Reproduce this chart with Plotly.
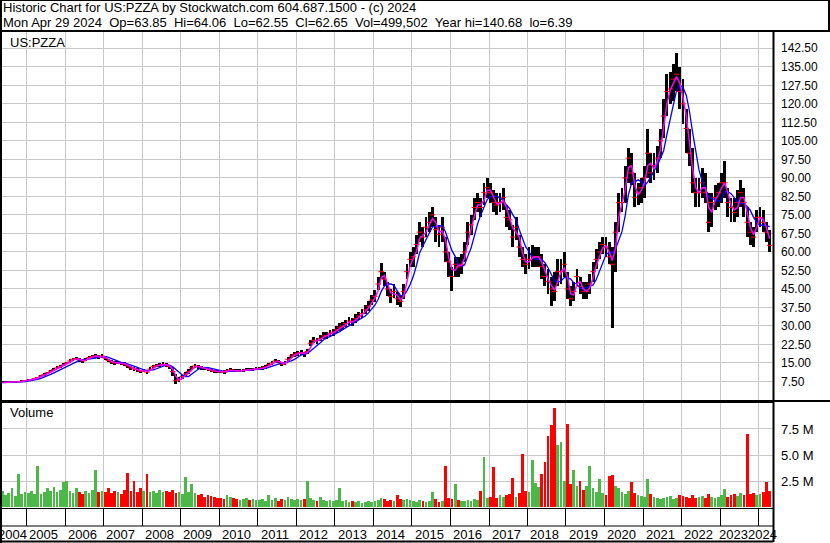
import plotly.graph_objects as go
import pandas as pd

W, H = 830, 543


def px(x):
    return x / W


def py(y):
    return 1 - y / H


# ---------------- data (monthly, May 2004 .. Apr 2024) ----------------
months = pd.date_range("2004-05-01", "2024-04-01", freq="MS")

close = [
    7.1, 7.1, 7.2, 7.2, 7.3, 7.4, 7.6, 7.8,                          # 2004
    8.0, 8.3, 8.7, 9.1, 9.7, 10.3, 11.0, 11.7, 12.3, 13.0, 13.6, 14.2,  # 2005
    15.0, 15.8, 16.5, 16.8, 16.2, 15.8, 16.5, 17.2, 17.6, 17.9, 17.5, 17.8,  # 2006
    17.0, 16.0, 15.4, 15.0, 15.2, 14.8, 14.6, 13.8, 13.0, 12.5, 12.2, 11.6,  # 2007
    12.0, 11.3, 12.5, 13.5, 14.0, 14.1, 14.5, 14.3, 13.5, 11.5, 7.8, 8.3,    # 2008
    9.5, 10.5, 11.5, 13.0, 13.8, 13.5, 13.0, 12.8, 12.5, 12.0, 11.6, 11.5,   # 2009
    11.4, 11.3, 11.8, 12.2, 12.0, 11.8, 11.8, 12.0, 12.3, 12.2, 12.4, 12.6,  # 2010
    12.8, 13.0, 13.4, 14.3, 15.0, 15.8, 15.6, 14.5, 15.0, 16.5, 17.8, 18.5,  # 2011
    19.0, 19.2, 18.6, 19.6, 23.0, 24.2, 24.0, 25.0, 26.0, 26.0, 27.0, 27.5,  # 2012
    28.5, 29.5, 30.0, 31.0, 32.0, 31.5, 33.0, 34.0, 35.0, 36.5, 38.0, 40.5,  # 2013
    42.0, 47.0, 52.0, 49.0, 45.0, 42.0, 44.0, 41.0, 40.0, 44.0, 52.0, 57.0,  # 2014
    58.0, 63.0, 68.0, 66.0, 70.0, 72.0, 75.0, 69.0, 67.0, 70.0, 60.0, 56.0,  # 2015
    50.0, 55.0, 54.0, 55.0, 60.0, 68.0, 71.0, 78.0, 80.0, 78.0, 84.0, 86.0,  # 2016
    84.0, 80.0, 79.0, 80.0, 82.0, 74.0, 73.0, 66.0, 70.0, 62.0, 57.0, 55.0,  # 2017
    57.0, 58.0, 58.0, 58.0, 54.0, 50.0, 48.0, 45.0, 44.0, 52.0, 52.0, 55.0,  # 2018
    45.0, 41.0, 44.0, 50.0, 46.0, 44.0, 44.0, 47.0, 52.0, 57.0, 60.0, 63.0,  # 2019
    62.0, 58.0, 55.0, 68.0, 80.0, 80.0, 90.0, 98.0, 92.0, 82.0, 84.0, 86.0,  # 2020
    90.0, 100.0, 92.0, 95.0, 98.0, 105.0, 115.0, 125.0, 126.0, 130.0, 132.0, 125.0,  # 2021
    120.0, 110.0, 100.0, 88.0, 84.0, 84.0, 88.0, 84.0, 72.0, 80.0, 82.0, 84.0,  # 2022
    88.0, 88.0, 80.0, 78.0, 76.0, 80.0, 84.0, 80.0, 72.0, 68.0, 66.0, 74.0,  # 2023
    74.0, 72.0, 68.0, 62.65,                                                 # 2024
]

high = [
    7.5, 7.5, 7.6, 7.6, 7.7, 7.8, 8.0, 8.2,
    8.4, 8.7, 9.1, 9.5, 10.2, 10.8, 11.5, 12.2, 12.9, 13.6, 14.2, 14.9,
    15.6, 16.5, 17.2, 17.5, 16.9, 16.5, 17.2, 17.9, 18.3, 18.7, 18.2, 18.5,
    17.8, 16.8, 16.1, 15.7, 15.9, 15.5, 15.3, 14.6, 13.8, 13.2, 12.9, 12.3,
    12.7, 12.0, 13.2, 14.2, 14.7, 14.8, 15.2, 15.0, 14.3, 13.5, 10.5, 9.2,
    10.3, 11.3, 12.4, 13.8, 14.6, 14.3, 13.8, 13.5, 13.2, 12.7, 12.3, 12.2,
    12.1, 12.0, 12.5, 12.9, 12.7, 12.5, 12.5, 12.7, 13.0, 12.9, 13.1, 13.3,
    13.5, 13.7, 14.1, 15.0, 15.8, 16.6, 16.4, 15.4, 15.8, 17.3, 18.6, 19.4,
    20.0, 20.2, 19.6, 20.8, 24.3, 25.5, 25.3, 26.3, 27.4, 27.4, 28.4, 28.9,
    30.0, 31.0, 31.5, 32.6, 33.7, 33.2, 34.7, 35.8, 36.8, 38.4, 40.0, 42.6,
    44.5, 50.0, 55.5, 52.0, 48.0, 44.8, 46.8, 43.8, 42.6, 47.0, 55.0, 60.0,
    62.0, 67.0, 72.0, 70.0, 74.0, 76.0, 78.0, 74.0, 71.0, 74.0, 66.0, 60.0,
    54.0, 58.0, 58.0, 59.0, 64.0, 72.0, 75.0, 82.0, 84.0, 82.0, 88.0, 90.0,
    88.0, 85.0, 84.0, 84.0, 86.0, 79.0, 77.0, 71.0, 74.0, 67.0, 62.0, 59.0,
    62.0, 63.0, 62.0, 62.0, 59.0, 55.0, 53.0, 50.0, 52.0, 57.0, 57.0, 60.0,
    52.0, 46.0, 48.0, 53.0, 50.0, 48.0, 48.0, 51.0, 56.0, 61.0, 64.0, 66.0,
    66.0, 64.0, 62.0, 72.0, 84.0, 86.0, 95.0, 102.0, 100.0, 92.0, 88.0, 90.0,
    95.0, 110.0, 100.0, 100.0, 103.0, 110.0, 122.0, 132.0, 133.0, 136.0, 140.68, 135.0,
    130.0, 118.0, 110.0, 102.0, 90.0, 90.0, 94.0, 92.0, 84.0, 84.0, 87.0, 88.0,
    92.0, 97.0, 86.0, 82.0, 82.0, 85.0, 89.0, 86.0, 78.0, 72.0, 70.0, 77.0,
    78.0, 77.0, 72.0, 69.0,
]

low = [
    6.8, 6.8, 6.9, 6.9, 7.0, 7.1, 7.3, 7.5,
    7.7, 8.0, 8.4, 8.8, 9.3, 9.9, 10.6, 11.2, 11.8, 12.5, 13.1, 13.7,
    14.4, 15.1, 15.8, 16.1, 15.5, 15.1, 15.8, 16.5, 16.9, 17.2, 16.8, 17.1,
    16.2, 15.3, 14.7, 14.3, 14.5, 14.1, 13.9, 13.0, 12.2, 11.8, 11.5, 10.9,
    11.2, 10.6, 11.8, 12.8, 13.3, 13.4, 13.8, 13.5, 12.6, 9.8, 6.39, 7.4,
    8.6, 9.6, 10.6, 12.0, 13.0, 12.7, 12.3, 12.1, 11.8, 11.3, 10.9, 10.8,
    10.8, 10.7, 11.2, 11.6, 11.4, 11.2, 11.2, 11.4, 11.7, 11.6, 11.8, 12.0,
    12.1, 12.3, 12.7, 13.6, 14.2, 15.0, 14.8, 13.6, 14.2, 15.7, 17.0, 17.6,
    18.0, 18.2, 17.6, 18.6, 21.8, 23.0, 22.8, 23.8, 24.7, 24.7, 25.6, 26.1,
    27.1, 28.0, 28.5, 29.4, 30.4, 29.9, 31.4, 32.3, 33.3, 34.7, 36.1, 38.5,
    39.8, 44.5, 49.0, 46.0, 42.0, 39.4, 41.2, 38.4, 37.6, 41.0, 49.0, 54.0,
    54.0, 59.0, 64.0, 62.0, 66.0, 68.0, 70.0, 64.0, 62.0, 64.0, 56.0, 50.0,
    44.0, 50.0, 50.0, 51.0, 56.0, 63.0, 67.0, 73.0, 76.0, 74.0, 79.0, 82.0,
    80.0, 76.0, 75.0, 76.0, 77.0, 70.0, 69.0, 62.0, 65.0, 58.0, 54.0, 51.0,
    53.0, 54.0, 54.0, 54.0, 49.0, 46.0, 43.0, 38.0, 40.0, 46.0, 47.0, 50.0,
    41.0, 38.0, 40.0, 46.0, 43.0, 41.0, 41.0, 43.0, 48.0, 53.0, 57.0, 59.0,
    58.0, 55.0, 29.0, 52.0, 68.0, 76.0, 80.0, 88.0, 87.0, 78.0, 79.0, 80.0,
    82.0, 90.0, 88.0, 89.0, 92.0, 98.0, 106.0, 115.0, 120.0, 121.0, 125.0, 118.0,
    112.0, 100.0, 95.0, 84.0, 78.0, 78.0, 82.0, 80.0, 68.0, 70.0, 77.0, 78.0,
    80.0, 82.0, 74.0, 72.0, 72.0, 74.0, 78.0, 74.0, 66.0, 63.0, 62.0, 68.0,
    70.0, 68.0, 64.0, 60.0,
]

volume_m = [
    1.6, 1.2, 1.4, 1.8, 1.1, 3.2, 1.3, 1.5,
    1.4, 1.6, 1.3, 4.0, 1.3, 1.5, 1.8, 1.6, 1.9, 1.5, 1.7, 2.4,
    2.5, 1.6, 1.4, 1.8, 1.5, 1.3, 1.6, 1.4, 1.7, 3.6, 1.5, 1.6,
    1.5, 1.8, 1.4, 1.6, 1.5, 1.3, 1.7, 3.3, 1.6, 2.5, 1.5, 1.8,
    1.6, 3.2, 1.5, 1.6, 1.4, 1.7, 1.5, 1.6, 1.5, 1.7, 1.4, 1.5,
    1.3, 2.9, 1.5, 2.2, 1.4, 1.2, 1.3, 1.0, 1.2, 1.1, 1.0, 0.9,
    0.9, 0.8, 1.2, 1.0, 0.9, 0.8, 0.7, 0.8, 0.9, 0.7, 0.8, 0.7,
    0.7, 0.8, 0.6, 1.2, 0.7, 0.9, 0.6, 0.8, 0.7, 1.0, 0.8, 0.7,
    0.8, 0.7, 0.8, 2.5, 0.9, 0.7, 0.6, 1.0, 0.7, 0.6, 0.7, 0.6,
    0.7, 1.85, 0.6, 0.7, 0.5, 0.6, 0.5, 0.6, 0.4, 0.5, 0.6, 0.5,
    0.6, 0.7, 0.9, 0.8, 0.6, 0.7, 0.6, 1.2, 0.8, 0.7, 0.8, 0.7,
    0.6, 0.5, 0.7, 0.6, 0.5, 0.6, 1.5, 0.8, 0.5, 0.6, 4.0, 0.9,
    0.8, 2.2, 0.7, 0.6, 0.6, 0.7, 0.6, 0.8, 0.7, 1.6, 4.8, 0.9,
    1.0, 3.9, 0.9, 1.2, 1.0, 1.2, 1.3, 2.8, 1.0, 1.4, 5.1, 1.6,
    1.5, 4.5, 2.3, 1.9, 3.2, 4.3, 6.8, 7.9, 9.5, 6.0, 6.3, 2.5,
    8.0, 2.2, 3.6, 2.0, 2.5, 1.7, 2.0, 4.0, 1.8, 1.5, 2.7, 1.4,
    1.2, 3.0, 3.1, 2.0, 1.8, 1.5, 1.3, 1.6, 2.4, 1.4, 1.2, 1.1,
    1.0, 2.7, 1.3, 1.0, 0.9, 0.8, 0.9, 1.0, 1.1, 0.8, 0.9, 1.2,
    1.1, 1.0, 0.9, 1.2, 0.9, 1.0, 1.1, 0.9, 1.3, 1.0, 0.9, 1.0,
    1.2, 1.75, 1.0, 1.2, 1.3, 1.1, 1.4, 1.2, 7.0, 1.3, 1.4, 1.2,
    1.3, 1.5, 2.4, 1.6,
]

price_ticks = [7.5, 15, 22.5, 30, 37.5, 45, 52.5, 60, 67.5, 75, 82.5, 90,
               97.5, 105, 112.5, 120, 127.5, 135, 142.5]
volume_ticks = [2.5, 5.0, 7.5]
year_labels = list(range(2004, 2025))

symbol = "US:PZZA"
title_line1 = "Historic Chart for US:PZZA by Stockwatch.com 604.687.1500 - (c) 2024"
title_line2 = ("Mon Apr 29 2024  Op=63.85  Hi=64.06  Lo=62.55  Cl=62.65  "
               "Vol=499,502  Year hi=140.68  lo=6.39")

# ---------------- derived ----------------
mid = months + pd.Timedelta(days=14)
cs = pd.Series(close)
ma_fast = cs.rolling(2, min_periods=1).mean()
ma_slow = cs.rolling(5, min_periods=1).mean()
vol_colors = ["#4CB848" if i == 0 or close[i] >= close[i - 1] else "#FF0000"
              for i in range(len(close))]
DAY = 86400000

FONT = "Arial, 'Liberation Sans', sans-serif"
GRID = "#C8C8C8"

fig = go.Figure()
fig.add_trace(go.Bar(x=mid, y=[h - l for h, l in zip(high, low)], base=low,
                     width=27 * DAY, marker=dict(color="black", line_width=0),
                     xaxis="x", yaxis="y", hoverinfo="skip"))
fig.add_trace(go.Scatter(x=mid, y=close, mode="markers",
                         marker=dict(symbol="line-ew", size=4,
                                     line=dict(color="#FF0000", width=1)),
                         xaxis="x", yaxis="y", hoverinfo="skip"))
fig.add_trace(go.Scatter(x=mid, y=ma_slow, mode="lines",
                         line=dict(color="#0000FF", width=1.3),
                         xaxis="x", yaxis="y", hoverinfo="skip"))
fig.add_trace(go.Scatter(x=mid, y=ma_fast, mode="lines",
                         line=dict(color="#FF00FF", width=1.5),
                         xaxis="x", yaxis="y", hoverinfo="skip"))
fig.add_trace(go.Bar(x=mid, y=[v * 1e6 for v in volume_m], width=26 * DAY,
                     marker=dict(color=vol_colors, line_width=0),
                     xaxis="x2", yaxis="y2", hoverinfo="skip"))

x_range = ["2004-05-11", "2024-05-17"]

fig.update_layout(
    width=W, height=H, margin=dict(l=0, r=0, t=0, b=0),
    paper_bgcolor="white", plot_bgcolor="white", showlegend=False,
    bargap=0, barmode="overlay", hovermode=False,
    xaxis=dict(domain=[px(2), px(773)], range=x_range, type="date",
               showgrid=True, gridcolor=GRID, gridwidth=1, dtick="M12",
               tick0="2005-01-01", showticklabels=False, ticks="",
               zeroline=False, showline=False, anchor="y"),
    yaxis=dict(domain=[py(400), py(32)], range=[0, 149.1], side="right",
               tickvals=price_ticks, ticktext=[f"{v:.2f}" for v in price_ticks],
               showgrid=True, gridcolor=GRID, gridwidth=1, zeroline=False,
               ticks="", ticklabelstandoff=7, anchor="x",
               tickfont=dict(family=FONT, size=12, color="black")),
    xaxis2=dict(domain=[px(2), px(773)], range=x_range, type="date",
                showgrid=True, gridcolor=GRID, gridwidth=1, dtick="M12",
                tick0="2005-01-01", showticklabels=False, ticks="outside",
                ticklen=17, tickcolor="black", tickwidth=1,
                zeroline=False, showline=False, anchor="y2"),
    yaxis2=dict(domain=[py(508), py(403)], range=[-0.07e6, 9.99e6], side="right",
                tickvals=[v * 1e6 for v in volume_ticks],
                ticktext=[f"{v:.1f} M" for v in volume_ticks],
                showgrid=True, gridcolor=GRID, gridwidth=1, zeroline=False,
                ticks="", ticklabelstandoff=7, anchor="x2",
                tickfont=dict(family=FONT, size=13, color="black")),
)

# ---------------- frame lines ----------------
def hline(y, x0, x1, w=1):
    return dict(type="line", xref="paper", yref="paper", x0=px(x0), x1=px(x1),
                y0=py(y), y1=py(y), line=dict(color="black", width=w))


def vline(x, y0, y1, w=1):
    return dict(type="line", xref="paper", yref="paper", x0=px(x), x1=px(x),
                y0=py(y0), y1=py(y1), line=dict(color="black", width=w))


shapes = [
    hline(0.5, 0, 830, 1),
    hline(31, 0, 830, 2),
    vline(829, 0, 31, 2),
    vline(1, 0, 543, 2),
    vline(773.5, 31, 542, 2),
    hline(401, 0, 830, 2),
    hline(402.5, 0, 773, 1),
    hline(508.5, 0, 773, 1),
    hline(526, 0, 773, 1),
    hline(541.5, 0, 773, 2),
]
fig.update_layout(shapes=shapes)

# ---------------- texts ----------------
def nb(s):
    return s.replace("  ", "\u00a0\u00a0")


ann = [
    dict(text=title_line1, x=px(1), y=py(8), xanchor="left", yanchor="middle"),
    dict(text=nb(title_line2), x=px(1), y=py(22.5), xanchor="left", yanchor="middle"),
    dict(text=symbol, x=px(8), y=py(42), xanchor="left", yanchor="middle"),
    dict(text="Volume", x=px(8), y=py(413), xanchor="left", yanchor="middle"),
]
for a in ann:
    a.update(xref="paper", yref="paper", showarrow=False,
             font=dict(family=FONT, size=13, color="black"))

# label anchor dates (centre of each year label); last two are squeezed
label_at = {2023: ("2023-05-13", 0), 2024: ("2024-02-06", 0), 2004: ("2004-07-01", 5)}
for yr in year_labels:
    xd, sh = label_at.get(yr, (f"{yr}-07-01", -2))
    ann.append(dict(text=str(yr), x=xd, xref="x2", y=py(534),
                    yref="paper", xanchor="center", yanchor="middle",
                    xshift=sh, showarrow=False,
                    font=dict(family=FONT, size=13, color="black")))
fig.update_layout(annotations=ann)

fig.write_html(
    "out.html",
    config={"displayModeBar": False, "staticPlot": True},
    post_script="document.body.style.margin='0';document.body.style.overflow='hidden';",
)
